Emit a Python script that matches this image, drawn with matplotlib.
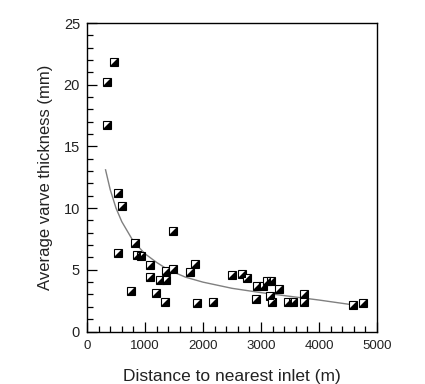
import matplotlib
matplotlib.use("Agg")
import matplotlib.pyplot as plt
from matplotlib.ticker import MultipleLocator

plt.rcParams['font.family'] = ['Liberation Sans', 'DejaVu Sans']

# measured points
dist = [345, 345, 471, 530, 612, 530, 830, 860, 935, 762,
        1092, 1092, 1195, 1259, 1342, 1362, 1362, 1488, 1480, 1770,
        1862, 1900, 2175, 2500, 2672, 2753, 2914, 2925, 3029, 3098,
        3167, 3160, 3190, 3316, 3471, 3557, 3745, 3745, 4585, 4760]
thick = [20.2, 16.7, 21.8, 11.2, 10.2, 6.4, 7.15, 6.2, 6.1, 3.3,
         5.4, 4.4, 3.1, 4.18, 2.37, 4.9, 4.18, 8.18, 5.05, 4.8,
         5.5, 2.3, 2.37, 4.6, 4.7, 4.37, 2.62, 3.65, 3.69, 4.07,
         4.07, 2.9, 2.4, 3.46, 2.42, 2.42, 3.04, 2.42, 2.12, 2.3]

# trend curve
curve_x = [320, 400, 500, 600, 800, 1000, 1200, 1400, 1700, 2000,
           2500, 3000, 3500, 4000, 4600]
curve_y = [13.1, 11.5, 10.0, 8.9, 7.3, 6.3, 5.6, 5.0, 4.4, 4.0,
           3.5, 3.15, 2.85, 2.55, 2.15]

fig = plt.figure(figsize=(4.25, 3.84), dpi=100)
ax = fig.add_axes([0.2047, 0.1367, 0.6824, 0.8034])

ax.plot(curve_x, curve_y, color="#808080", lw=1.0)

# half-filled squares: white square + black lower-right triangle
ax.plot(dist, thick, ls="none", marker="s", ms=5.2, mfc="white",
        mec="black", mew=0.8)
ax.plot(dist, thick, ls="none", marker=[(-1, -1), (1, -1), (1, 1)],
        ms=5.2, color="black", mew=0)

ax.set_xlim(0, 5000)
ax.set_ylim(0, 25)
ax.xaxis.set_major_locator(MultipleLocator(1000))
ax.xaxis.set_minor_locator(MultipleLocator(200))
ax.yaxis.set_major_locator(MultipleLocator(5))
ax.yaxis.set_minor_locator(MultipleLocator(1))
ax.tick_params(which="both", direction="in", top=False, right=False,
               width=0.9, colors="black", labelcolor="#222222")
ax.tick_params(axis="x", labelsize=9.5, pad=6)
ax.tick_params(axis="y", labelsize=10.5, pad=5)
ax.tick_params(which="major", length=7)
ax.tick_params(which="minor", length=4)
for s in ax.spines.values():
    s.set_linewidth(1.0)

ax.set_xlabel("Distance to nearest inlet (m)", fontsize=12.5, labelpad=12,
              color="#222222")
ax.set_ylabel("Average varve thickness (mm)", fontsize=12, labelpad=8,
              color="#222222")

fig.savefig("out.png", dpi=100)
